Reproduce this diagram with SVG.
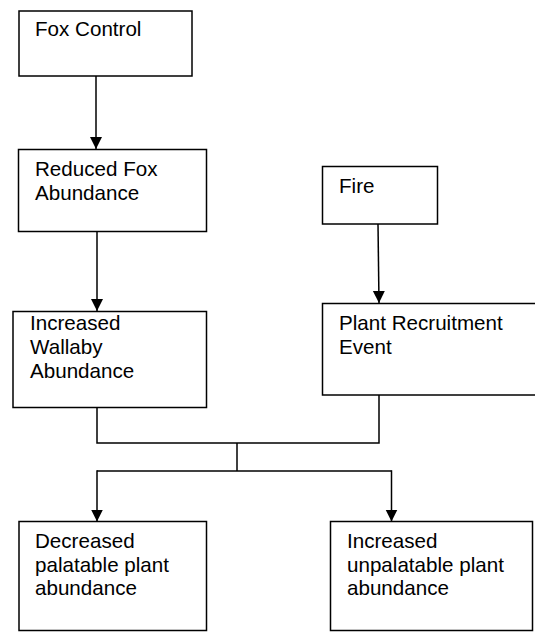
<svg xmlns="http://www.w3.org/2000/svg" width="535" height="632" viewBox="0 0 535 632">
<style>
.box{fill:#fff;stroke:#000;stroke-width:1.5}
.t{font-family:"Liberation Sans",Arial,sans-serif;font-size:20.6px;fill:#000}
.c{fill:none;stroke:#000;stroke-width:1.5}
</style>
<defs>
<marker id="ah" markerUnits="userSpaceOnUse" markerWidth="12" markerHeight="14" viewBox="0 0 12 14" refX="12" refY="7" orient="auto">
<path d="M0,1 L12,7 L0,13 Z" fill="#000"/>
</marker>
</defs>
<rect width="535" height="632" fill="#fff"/>
<g id="connectors">
<line class="c" x1="96" y1="76" x2="96" y2="149" marker-end="url(#ah)"/>
<line class="c" x1="97" y1="232" x2="97" y2="311" marker-end="url(#ah)"/>
<line class="c" x1="378" y1="224" x2="379" y2="303" marker-end="url(#ah)"/>
<polyline class="c" points="97,407 97,443 379,443 379,395"/>
<line class="c" x1="237" y1="443" x2="237" y2="471"/>
<line class="c" x1="97" y1="471" x2="391.5" y2="471"/>
<line class="c" x1="97" y1="470.25" x2="97" y2="521.5" marker-end="url(#ah)"/>
<line class="c" x1="391.5" y1="470.25" x2="391.5" y2="521.5" marker-end="url(#ah)"/>
</g>
<g id="fox-control">
<rect class="box" x="19" y="11" width="173" height="65"/>
<text class="t" x="35" y="36">Fox Control</text>
</g>
<g id="reduced-fox">
<rect class="box" x="18.5" y="149.5" width="188" height="82"/>
<text class="t" x="35" y="176">Reduced Fox</text>
<text class="t" x="35" y="200">Abundance</text>
</g>
<g id="increased-wallaby">
<rect class="box" x="13" y="311.5" width="193.5" height="96"/>
<text class="t" x="30" y="330">Increased</text>
<text class="t" x="30" y="354">Wallaby</text>
<text class="t" x="30" y="378">Abundance</text>
</g>
<g id="fire">
<rect class="box" x="322.5" y="166.5" width="115" height="57.5"/>
<text class="t" x="339" y="193">Fire</text>
</g>
<g id="plant-recruitment">
<rect class="box" x="322.5" y="303.5" width="220" height="91.5"/>
<text class="t" x="339" y="330">Plant Recruitment</text>
<text class="t" x="339" y="354">Event</text>
</g>
<g id="decreased-palatable">
<rect class="box" x="19" y="521.5" width="187.5" height="109"/>
<text class="t" x="35" y="548">Decreased</text>
<text class="t" x="35" y="572">palatable plant</text>
<text class="t" x="35" y="595">abundance</text>
</g>
<g id="increased-unpalatable">
<rect class="box" x="330.5" y="521.5" width="202" height="109"/>
<text class="t" x="347" y="548">Increased</text>
<text class="t" x="347" y="572">unpalatable plant</text>
<text class="t" x="347" y="595">abundance</text>
</g>
</svg>
